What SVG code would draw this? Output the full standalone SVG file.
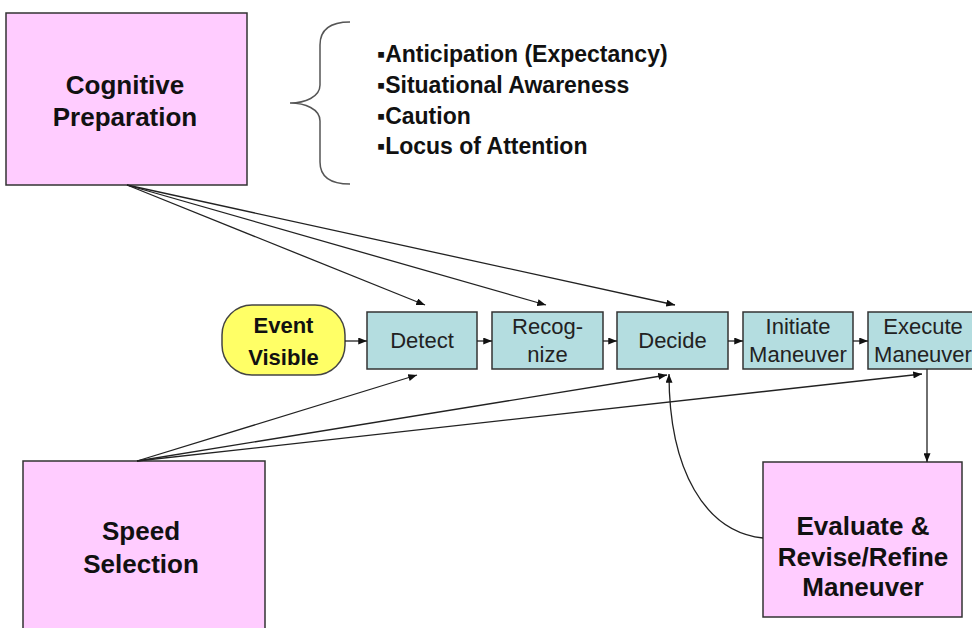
<svg xmlns="http://www.w3.org/2000/svg" width="972" height="628" viewBox="0 0 972 628">
<defs>
<marker id="ah" viewBox="0 0 10 8" markerWidth="9" markerHeight="7" refX="10" refY="4" orient="auto" markerUnits="userSpaceOnUse">
<path d="M0,0 L10,4 L0,8 z" fill="#111"/>
</marker>
<style>
.pink{fill:#ffccff;stroke:#333;stroke-width:1.5}
.blue{fill:#b4dde0;stroke:#333;stroke-width:1.5}
.yel{fill:#ffff66;stroke:#444;stroke-width:1.5}
.bt{font-family:"Liberation Sans",Arial,sans-serif;font-weight:bold;font-size:26px;fill:#111;text-anchor:middle}
.rt{font-family:"Liberation Sans",Arial,sans-serif;font-size:22px;fill:#222;text-anchor:middle}
.et{font-family:"Liberation Sans",Arial,sans-serif;font-weight:bold;font-size:22px;fill:#111;text-anchor:middle}
.lt{font-family:"Liberation Sans",Arial,sans-serif;font-weight:bold;font-size:23px;fill:#111}
.c{fill:none;stroke:#222;stroke-width:1.3;marker-end:url(#ah)}
</style>
</defs>
<rect width="972" height="628" fill="#fff"/>

<g id="cognitive-preparation">
<rect class="pink" x="6" y="13" width="241" height="172"/>
<text class="bt" x="125" y="94">Cognitive</text>
<text class="bt" x="125" y="126">Preparation</text>
</g>

<g id="factors">
<path d="M350,22 C330,22 320,30 320,45 L320,85 C320,97 305,103 290,103 C305,103 320,109 320,121 L320,162 C320,177 330,184 350,184" fill="none" stroke="#555" stroke-width="1.5"/>
<text class="lt" x="377" y="62">▪Anticipation (Expectancy)</text>
<text class="lt" x="377" y="93">▪Situational Awareness</text>
<text class="lt" x="377" y="124">▪Caution</text>
<text class="lt" x="377" y="154">▪Locus of Attention</text>
</g>

<g id="event-visible">
<rect class="yel" x="222" y="305" width="123" height="70" rx="30" ry="30"/>
<text class="et" x="283.5" y="333">Event</text>
<text class="et" x="283.5" y="365">Visible</text>
</g>

<g id="detect">
<rect class="blue" x="367" y="312" width="110" height="57"/>
<text class="rt" x="422" y="348">Detect</text>
</g>

<g id="recognize">
<rect class="blue" x="492" y="312" width="111" height="57"/>
<text class="rt" x="547.5" y="334">Recog-</text>
<text class="rt" x="547.5" y="362">nize</text>
</g>

<g id="decide">
<rect class="blue" x="617" y="312" width="111" height="57"/>
<text class="rt" x="672.5" y="348">Decide</text>
</g>

<g id="initiate-maneuver">
<rect class="blue" x="743" y="312" width="110" height="57"/>
<text class="rt" x="798" y="334">Initiate</text>
<text class="rt" x="798" y="362">Maneuver</text>
</g>

<g id="execute-maneuver">
<rect class="blue" x="868" y="312" width="110" height="57"/>
<text class="rt" x="923" y="334">Execute</text>
<text class="rt" x="923" y="362">Maneuver</text>
</g>

<g id="speed-selection">
<rect class="pink" x="23" y="461" width="242" height="180"/>
<text class="bt" x="141" y="540">Speed</text>
<text class="bt" x="141" y="573">Selection</text>
</g>

<g id="evaluate-revise">
<rect class="pink" x="763" y="462" width="199" height="155"/>
<text class="bt" x="863" y="535">Evaluate &amp;</text>
<text class="bt" x="863" y="566">Revise/Refine</text>
<text class="bt" x="863" y="596">Maneuver</text>
</g>

<g id="connectors">
<line class="c" x1="345" y1="341" x2="367" y2="341"/>
<line class="c" x1="477" y1="341" x2="492" y2="341"/>
<line class="c" x1="603" y1="341" x2="617" y2="341"/>
<line class="c" x1="728" y1="341" x2="743" y2="341"/>
<line class="c" x1="853" y1="341" x2="868" y2="341"/>
<line class="c" x1="127" y1="185" x2="425" y2="305"/>
<line class="c" x1="127" y1="185" x2="546" y2="305"/>
<line class="c" x1="127" y1="185" x2="675" y2="305"/>
<line class="c" x1="137" y1="461" x2="417" y2="375"/>
<line class="c" x1="137" y1="461" x2="667" y2="375"/>
<line class="c" x1="137" y1="461" x2="922" y2="374"/>
<line class="c" x1="927" y1="369" x2="927" y2="462"/>
<path class="c" d="M763,538 C705,532 669,470 669,374"/>
</g>
</svg>
